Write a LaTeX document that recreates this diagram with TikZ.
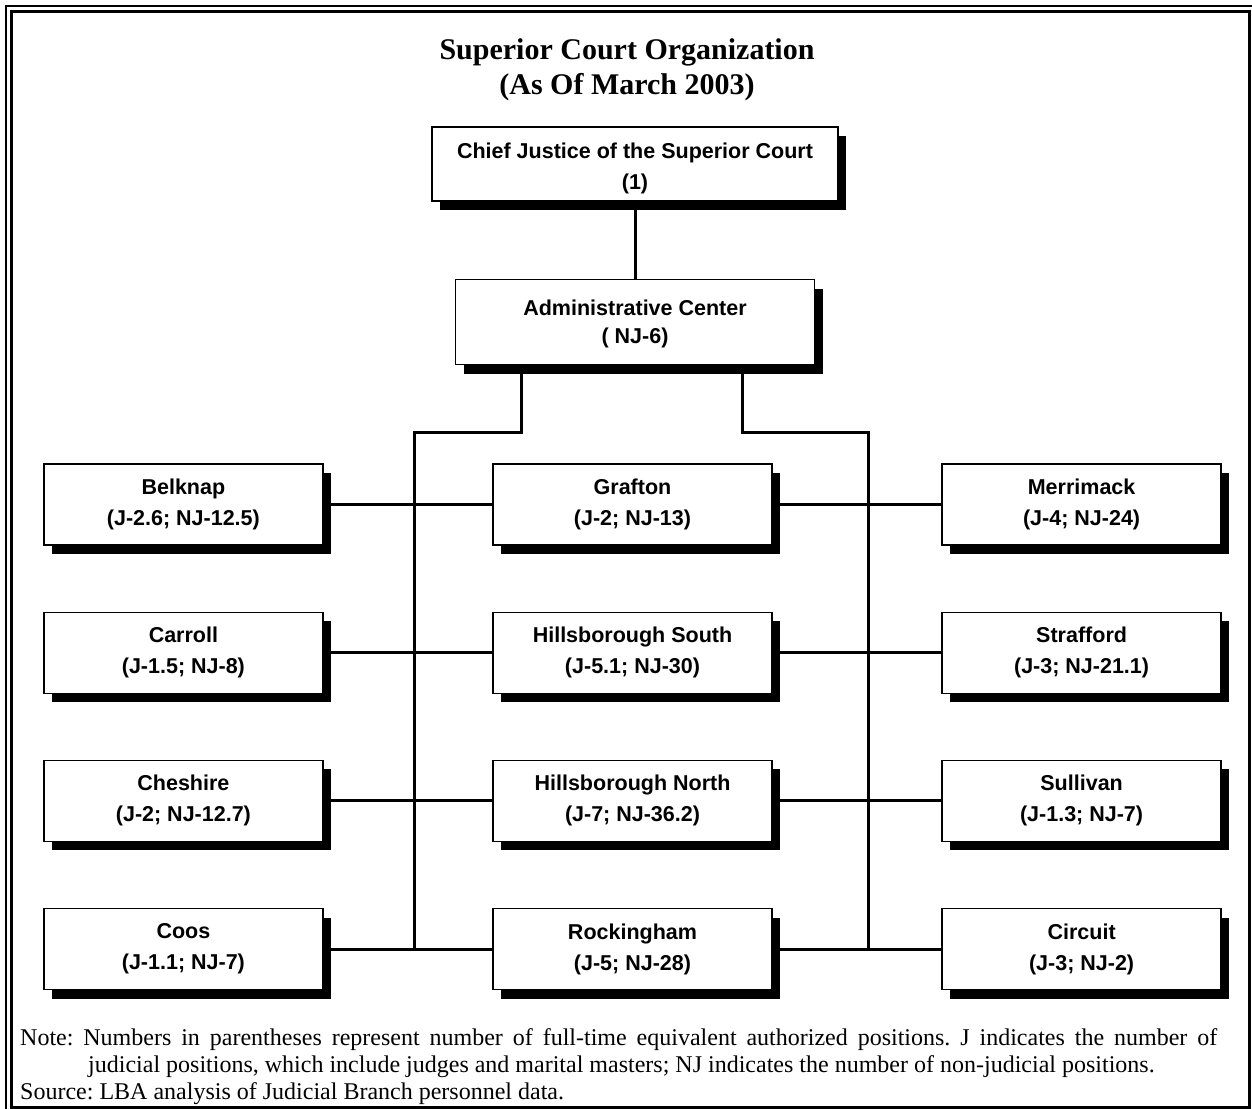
\documentclass[tikz,border=0pt]{standalone}
\usepackage{fontspec}
\setmainfont{Liberation Serif}
\newfontfamily\orgsans{Liberation Sans}
\usetikzlibrary{positioning,shadows}

\begin{document}
\begin{tikzpicture}[
  x=1pt, y=-1pt,
  node distance=65.5pt and 168.5pt,
  unit/.style={draw, line width=1.6pt, fill=white, align=center, inner sep=2pt,
    minimum width=279pt, minimum height=81pt,
    font={\orgsans\bfseries\fontsize{21.5}{31}\selectfont},
    drop shadow={shadow xshift=8pt, shadow yshift=-9pt, fill=black, opacity=1}},
  head/.style={unit, minimum width=406pt, minimum height=74pt},
  center/.style={unit, minimum width=359pt, minimum height=85pt,
    font={\orgsans\bfseries\fontsize{21.5}{28}\selectfont}},
  heading/.style={align=center, font={\bfseries\fontsize{30}{35}\selectfont}},
  note/.style={text width=1197pt, align=justify, inner sep=0pt, font={\fontsize{24}{27}\selectfont}},
  link/.style={line width=3pt},
  frame/.style={line width=2pt}
]
  \useasboundingbox (0,0) rectangle (1252,1108);
  \draw[frame] (6,6) rectangle (1258,1114);
  \draw[frame, line width=3pt] (11.5,11.5) rectangle (1249,1107);

  \node[heading] (title) at (627,70) {Superior Court Organization\\(As Of March 2003)};

  % struts push the two top labels a little below the box centre
  \node[head] (chief) at (635,164) {\rule{0pt}{25pt}Chief Justice of the Superior Court\\(1)};
  \node[center, below=77pt of chief] (admin) {\rule{0pt}{20pt}Administrative Center\\( NJ-6)};

  \node[unit, below=98pt of admin, xshift=-2.5pt] (grafton) {Grafton\\(J-2; NJ-13)};
  \node[unit, below=of grafton] (hsouth) {Hillsborough South\\(J-5.1; NJ-30)};
  \node[unit, below=of hsouth] (hnorth) {Hillsborough North\\(J-7; NJ-36.2)};
  \node[unit, below=of hnorth] (rock) {Rockingham\\(J-5; NJ-28)};

  \node[unit, left=of grafton] (belknap) {Belknap\\(J-2.6; NJ-12.5)};
  \node[unit, left=of hsouth] (carroll) {Carroll\\(J-1.5; NJ-8)};
  \node[unit, left=of hnorth] (cheshire) {Cheshire\\(J-2; NJ-12.7)};
  \node[unit, left=of rock] (coos) {Coos\\(J-1.1; NJ-7)};

  \node[unit, right=of grafton] (merrimack) {Merrimack\\(J-4; NJ-24)};
  \node[unit, right=of hsouth] (strafford) {Strafford\\(J-3; NJ-21.1)};
  \node[unit, right=of hnorth] (sullivan) {Sullivan\\(J-1.3; NJ-7)};
  \node[unit, right=of rock] (circuit) {Circuit\\(J-3; NJ-2)};

  \coordinate (lbus) at (414,432);
  \coordinate (rbus) at (868,432);

  \draw[link] (chief) -- (admin);
  \draw[link] ([xshift=-114pt]admin.south) |- (lbus) -- (lbus |- rock);
  \draw[link] ([xshift=107pt]admin.south) |- (rbus) -- (rbus |- rock);
  \draw[link] (belknap) -- (grafton) -- (merrimack);
  \draw[link] (carroll) -- (hsouth) -- (strafford);
  \draw[link] (cheshire) -- (hnorth) -- (sullivan);
  \draw[link] (coos) -- (rock) -- (circuit);

  \node[note, anchor=base west] (source) at (20,1045) {\frenchspacing\hangindent=68pt\hangafter=1
    Note: Numbers in parentheses represent number of full-time equivalent authorized positions. J indicates the number of\linebreak
    judicial positions, which include judges and marital masters; NJ indicates the number of non-judicial positions.\par
    Source: LBA analysis of Judicial Branch personnel data.};
\end{tikzpicture}
\end{document}
